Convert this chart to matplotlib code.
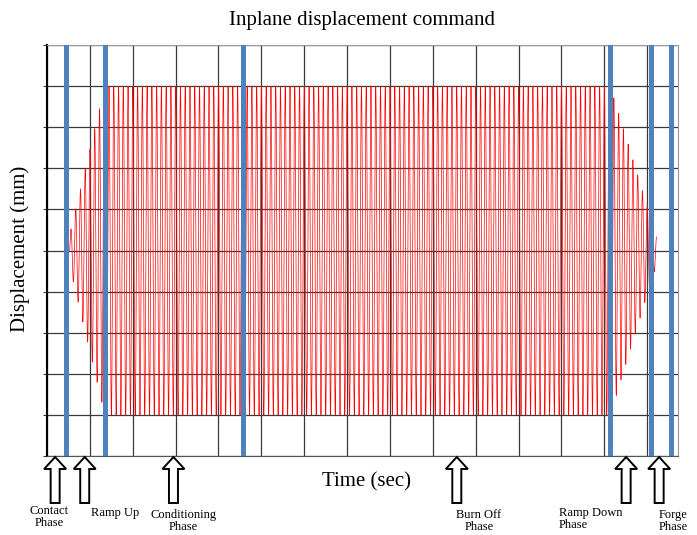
import numpy as np
import matplotlib.pyplot as plt
from matplotlib.patches import Polygon

plt.rcParams['font.family'] = ['Liberation Serif', 'DejaVu Serif']

# phase boundaries (sec)
phase_bounds = [0.44, 1.35, 4.58, 13.14, 14.09, 14.56]

# command signal: envelope corners (time, amplitude) and carrier frequency
env_time = [0.53, 1.35, 13.14, 14.22]
env_amp = [0.45, 4.0, 4.0, 0.3]
ramp_start = 0.44
ramp_end_zero = 14.32
carrier_freq = 9.0  # cycles per sec

# arrows under the axis and their captions
arrow_times = [0.19, 0.88, 2.95, 9.56, 13.51, 14.28]
phase_labels = ["Contact\nPhase", "Ramp Up", "Conditioning\nPhase",
                "Burn Off\nPhase", "Ramp Down\nPhase", "Forge\nPhase"]
label_dx = [-6, 30, 10, 22, -67, 0]   # caption offset from arrow (px)
label_y = [517, 513, 521, 521, 519, 521]
label_ha = ["center", "center", "center", "center", "left", "left"]

W, H = 697, 535
fig = plt.figure(figsize=(W / 100, H / 100), dpi=100)
ax = fig.add_axes([47 / W, (H - 456) / H, 631 / W, 411 / H])

# build the command
t = np.linspace(env_time[0], env_time[-1], 40000)
amp = np.where(t < env_time[1], 4.0 * (t - ramp_start) / (env_time[1] - ramp_start), 4.0)
amp = np.where(t > env_time[2], 4.0 * (ramp_end_zero - t) / (ramp_end_zero - env_time[2]), amp)
disp = amp * np.sin(2 * np.pi * carrier_freq * (t - env_time[0]))

ax.plot(t, disp, color="red", lw=0.5, zorder=2)
for b in phase_bounds:
    ax.axvline(b, color="#4f81bd", lw=3.6, zorder=3)

ax.set_xlim(0, 14.72)
ax.set_ylim(-5, 5)
ax.set_xticks(np.arange(0, 15, 1))
ax.set_yticks(np.arange(-5, 6, 1))
ax.grid(True, color="#3a3a3a", lw=0.9, zorder=1)
ax.set_axisbelow(True)
ax.tick_params(axis="x", length=0, labelbottom=False)
ax.tick_params(axis="y", length=3, color="#3a3a3a", labelleft=False)
for s in ["top", "right", "bottom"]:
    ax.spines[s].set_color("#9a9a9a")
ax.spines["bottom"].set_color("#555555")
ax.spines["left"].set_linewidth(1.5)

fig.text(362 / W, 1 - 21 / H, "Inplane displacement command", fontsize=15,
         ha="center", va="center")
fig.text(366 / W, 1 - 482 / H, "Time (sec)", fontsize=15, ha="center", va="center")
fig.text(20 / W, 1 - 249 / H, "Displacement (mm)", fontsize=15, ha="center", va="center",
         rotation=90)

# overlay in pixel coordinates for the hollow arrows
ov = fig.add_axes([0, 0, 1, 1], zorder=5)
ov.set_xlim(0, W)
ov.set_ylim(H, 0)
ov.axis("off")
ov.patch.set_alpha(0)

for tt, lab, dx, ly, ha in zip(arrow_times, phase_labels, label_dx, label_y, label_ha):
    px = ax.transData.transform((tt, 0))[0]
    px = px * W / fig.bbox.width
    tip, base, bot = 457, 469, 503
    hw, sw = 11, 4.5
    pts = [(px, tip), (px + hw, base), (px + sw, base), (px + sw, bot),
           (px - sw, bot), (px - sw, base), (px - hw, base)]
    ov.add_patch(Polygon(pts, closed=True, facecolor="white", edgecolor="black", lw=1.4))
    ov.text(px + dx, ly, lab, fontsize=9, ha=ha, va="center", linespacing=1.1)

fig.savefig("out.png", dpi=100)
